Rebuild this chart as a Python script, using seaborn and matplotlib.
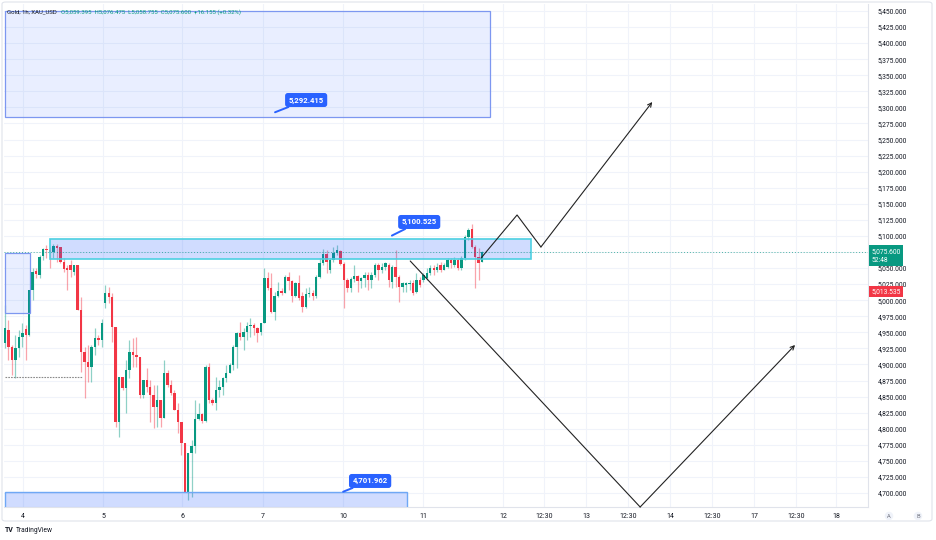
import matplotlib
matplotlib.use("Agg")
import matplotlib.pyplot as plt
import matplotlib.transforms as mtransforms
from matplotlib.patches import Rectangle, FancyBboxPatch
import seaborn as sns
import numpy as np
import pandas as pd

# ---------------- data (XAU/USD, 1h candles) ----------------
opens = [4933, 4954, 4927, 4907, 4926, 4943, 4955, 4946, 5016, 5045,
         5039, 5069, 5080, 5078, 5075, 5084, 5083, 5059, 5050, 5055,
         5044, 5055, 4985, 4919, 4904, 4896, 4927, 4941, 4938, 4996,
         5011, 5005, 4958, 4810, 4880, 4863, 4891, 4919, 4915, 4912,
         4853, 4876, 4865, 4853, 4834, 4845, 4817, 4887, 4868, 4856,
         4829, 4810, 4778, 4702, 4762, 4773, 4815, 4823, 4812, 4896,
         4845, 4840, 4860, 4865, 4879, 4887, 4899, 4927, 4949, 4943,
         4951, 4960, 4961, 4957, 4951, 4965, 5035, 5019, 4982, 5007,
         5014, 5011, 5036, 5030, 5007, 5027, 5007, 4989, 5010, 5011,
         5007, 5036, 5058, 5072, 5047, 5063, 5073, 5077, 5056, 5031,
         5019, 5033, 5038, 5030, 5035, 5039, 5031, 5039, 5055, 5047,
         5052, 5055, 5028, 5052, 5036, 5021, 5024, 5025, 5027, 5013,
         5031, 5031, 5035, 5042, 5050, 5047, 5055, 5047, 5052, 5063,
         5055, 5063, 5050, 5066, 5098, 5111, 5083, 5067, 5059.395]
highs = [4993, 4969, 4930, 4946, 4954, 4965, 4961, 5016, 5050, 5050,
         5070, 5081, 5086, 5083, 5087, 5087, 5083, 5066, 5055, 5063,
         5055, 5055, 5005, 4927, 4930, 4930, 4957, 4946, 4971, 5024,
         5021, 5011, 4958, 4880, 4880, 4907, 4938, 4941, 4943, 4912,
         4876, 4894, 4876, 4868, 4868, 4845, 4907, 4891, 4876, 4860,
         4840, 4810, 4778, 4762, 4782, 4845, 4840, 4824, 4899, 4902,
         4848, 4880, 4876, 4880, 4899, 4902, 4930, 4951, 4966, 4957,
         4966, 4972, 4965, 4958, 4965, 5050, 5044, 5042, 5013, 5028,
         5019, 5039, 5044, 5031, 5028, 5039, 5013, 5019, 5021, 5016,
         5039, 5066, 5080, 5078, 5066, 5083, 5086, 5078, 5059, 5035,
         5036, 5055, 5039, 5036, 5044, 5044, 5044, 5058, 5058, 5058,
         5059, 5058, 5055, 5078, 5039, 5028, 5028, 5031, 5031, 5042,
         5036, 5042, 5050, 5055, 5055, 5058, 5059, 5058, 5066, 5066,
         5067, 5066, 5069, 5101, 5112, 5119, 5086, 5081, 5076.475]
lows = [4926, 4907, 4884, 4879, 4912, 4927, 4907, 4944, 5000, 5035,
        5035, 5063, 5066, 5050, 5066, 5059, 5058, 5044, 5016, 5036,
        5039, 4985, 4888, 4848, 4873, 4873, 4915, 4930, 4927, 4988,
        4996, 4935, 4803, 4787, 4860, 4825, 4879, 4896, 4896, 4848,
        4848, 4857, 4810, 4801, 4803, 4803, 4817, 4865, 4853, 4829,
        4793, 4759, 4702, 4689, 4694, 4762, 4814, 4809, 4810, 4840,
        4837, 4829, 4849, 4853, 4873, 4887, 4891, 4894, 4938, 4923,
        4938, 4943, 4946, 4935, 4946, 4965, 5016, 4980, 4969, 5005,
        5008, 5011, 5016, 4997, 5005, 5000, 4982, 4988, 5005, 5000,
        5003, 5035, 5055, 5042, 5042, 5059, 5070, 5055, 4988, 5013,
        5013, 5028, 5013, 5019, 5021, 5016, 5019, 5036, 5031, 5042,
        5047, 5021, 5019, 5021, 4997, 5013, 5013, 5016, 5008, 5011,
        5021, 5028, 5031, 5039, 5039, 5044, 5044, 5047, 5050, 5050,
        5052, 5047, 5047, 5063, 5094, 5081, 5019, 5031, 5058.755]
closes = [4957, 4927, 4907, 4926, 4943, 4949, 4946, 5016, 5044, 5041,
          5067, 5080, 5078, 5075, 5084, 5081, 5059, 5049, 5047, 5047,
          5055, 4985, 4919, 4904, 4896, 4927, 4941, 4938, 4965, 5011,
          5005, 4958, 4810, 4880, 4863, 4891, 4919, 4915, 4912, 4853,
          4876, 4865, 4853, 4834, 4845, 4817, 4887, 4868, 4856, 4829,
          4810, 4778, 4702, 4762, 4773, 4815, 4823, 4812, 4896, 4845,
          4840, 4860, 4865, 4879, 4887, 4899, 4927, 4949, 4943, 4951,
          4960, 4961, 4957, 4949, 4965, 5035, 5019, 4982, 5007, 5014,
          5011, 5036, 5030, 5007, 5027, 5003, 4989, 5010, 5011, 5007,
          5036, 5058, 5072, 5059, 5063, 5073, 5078, 5056, 5031, 5019,
          5033, 5038, 5030, 5035, 5039, 5031, 5039, 5055, 5047, 5052,
          5058, 5031, 5052, 5036, 5021, 5027, 5027, 5027, 5011, 5031,
          5024, 5039, 5042, 5050, 5047, 5052, 5047, 5055, 5063, 5058,
          5063, 5050, 5066, 5098, 5109, 5083, 5067, 5058, 5075.600]

time_labels = ["4", "5", "6", "7", "10", "11", "12", "12:30", "13", "12:30",
               "14", "12:30", "17", "12:30", "18"]
time_positions = [5.15, 28.35, 51.2, 74.6, 97.8, 120.9, 144.1, 155.9, 168.1,
                  180.2, 192.4, 204.5, 216.7, 228.8, 240.4]
price_ticks = list(range(4700, 5451, 25))

zone_labels = ["5,292.415", "5,100.525", "4,701.962"]
zone_levels = [5292.415, 5100.525, 4701.962]
last_price = 5075.600
marker_price = 5013.535

# ---------------- style ----------------
sns.set_theme(style="white")
plt.rcParams['font.family'] = ['Roboto', 'DejaVu Sans']

GREEN = "#089981"
RED = "#f23645"
BLUE = "#2962ff"
GRID = "#f0f3fa"
TXT = "#131722"

df = pd.DataFrame({"open": opens, "high": highs, "low": lows, "close": closes})
df["idx"] = np.arange(len(df))
df["up"] = df["close"] >= df["open"]
df["color"] = np.where(df["up"], GREEN, RED)

fig = plt.figure(figsize=(9.36, 5.40), dpi=100)
fig.patch.set_facecolor("white")
ax = fig.add_axes([4 / 936, 33 / 540, 864 / 936, 503 / 540])
ax.set_facecolor("white")
ax.set_xlim(-0.29, 249.6)
ax.set_ylim(4678.2, 5460.9)

# grid
for p in price_ticks:
    ax.axhline(p, color=GRID, lw=0.8, zorder=0)
for t in time_positions:
    ax.axvline(t, color=GRID, lw=0.8, zorder=0)

# candles
ax.vlines(df["idx"], df["low"], df["high"], colors=df["color"], lw=0.9,
          alpha=0.45, zorder=2)
body_bottom = np.minimum(df["open"], df["close"])
body_height = np.maximum(np.abs(df["close"] - df["open"]), 1.3)
ax.bar(df["idx"], body_height, bottom=body_bottom, width=0.7,
       color=df["color"], linewidth=0, zorder=2.5)

# zones / rectangles
def zone(x0, x1, y0, y1, alpha, edge, lw):
    ax.add_patch(Rectangle((x0, y0), x1 - x0, y1 - y0, facecolor=BLUE, alpha=alpha,
                           edgecolor="none", zorder=3))
    ax.add_patch(Rectangle((x0, y0), x1 - x0, y1 - y0, facecolor="none",
                           edgecolor=edge, lw=lw, zorder=3))

zone(0, 140.3, 5285, 5450, 0.1, "#7d97f0", 0.9)
zone(0, 7.2, 4980, 5073.4, 0.1, "#7d97f0", 0.9)
zone(13.0, 152.2, 5064, 5095, 0.22, "#4dd0e1", 1.2)
zone(0, 116.3, 4660, zone_levels[2], 0.22, "#6fa8f5", 1.0)

# price lines
ax.axhline(last_price, color=GREEN, lw=0.7, ls=(0, (1, 2)), alpha=0.7, zorder=3.5)
ax.plot([0, 22.3], [4881, 4881], color="#8a8a8a", lw=0.8, ls=(0, (1.5, 1)), zorder=3.5)

# drawn projection paths
up_x = [137.7, 148.1, 155.0]
up_y = [5065.7, 5132.6, 5082.8]
ax.plot(up_x, up_y, color="#222222", lw=0.8, zorder=4)
ax.annotate("", xy=(187.2, 5308.4), xytext=(155.0, 5082.8),
            arrowprops=dict(arrowstyle="->", color="#222222", lw=0.8,
                            shrinkA=0, shrinkB=0, mutation_scale=7), zorder=4)
dn_x = [117.2, 183.7]
dn_y = [5061.0, 4678.2]
ax.plot(dn_x, dn_y, color="#222222", lw=0.8, zorder=4, clip_on=False)
ax.annotate("", xy=(228.5, 4930.3), xytext=(183.7, 4678.2),
            arrowprops=dict(arrowstyle="->", color="#222222", lw=0.8,
                            shrinkA=0, shrinkB=0, mutation_scale=7), zorder=4)

# zone price callouts
tips = [(78.1, zone_levels[0]), (111.9, zone_levels[1]), (97.8, zone_levels[2])]
boxes = [(87.1, 5311.5), (119.8, 5121.7), (105.6, 4718.7)]
for lab, tip, box in zip(zone_labels, tips, boxes):
    ax.annotate(lab, xy=tip, xytext=box, ha="center", va="center",
                color="white", fontsize=5.6, fontweight="bold", zorder=6,
                bbox=dict(boxstyle="round,pad=0.45,rounding_size=0.35",
                          fc=BLUE, ec="none"),
                arrowprops=dict(arrowstyle="-", color=BLUE, lw=1.4,
                                shrinkA=0, shrinkB=0))

# axes styling (5,075 tick label is hidden behind the last-price badge)
ax.yaxis.tick_right()
ax.set_yticks(price_ticks)
ax.set_yticklabels(["" if p == 5075 else f"{p:,.3f}" for p in price_ticks])
ax.tick_params(axis="y", length=0, pad=7, labelsize=4.9, labelcolor=TXT)
ax.set_xticks(time_positions)
ax.set_xticklabels(time_labels)
ax.tick_params(axis="x", length=0, pad=4.5, labelsize=5, labelcolor=TXT)
for s in ["top", "left"]:
    ax.spines[s].set_visible(False)
for s in ["right", "bottom"]:
    ax.spines[s].set_color("#e0e3eb")
    ax.spines[s].set_linewidth(0.8)

# price-scale labels
blend = mtransforms.blended_transform_factory(ax.transAxes, ax.transData)
ax.text(1.004, 5081.5, "5,075.600\n52:48", transform=blend, ha="left", va="top",
        fontsize=4.9, color="white", linespacing=1.35, zorder=7, clip_on=False,
        bbox=dict(boxstyle="square,pad=0.35", fc=GREEN, ec="none"))
ax.text(1.004, marker_price, "5,013.535", transform=blend, ha="left", va="center",
        fontsize=4.9, color="white", zorder=7, clip_on=False,
        bbox=dict(boxstyle="square,pad=0.3", fc=RED, ec="none"))

# header legend
fig.text(7 / 936, 1 - 12 / 540, "Gold, 1h, XAU_USD", fontsize=4.3, color=TXT,
         ha="left", va="center")
fig.text(61 / 936, 1 - 12 / 540,
         "O5,059.395  H5,076.475  L5,058.755  C5,075.600  +16.155 (+0.32%)",
         fontsize=4.3, color=GREEN, ha="left", va="center")

# scale buttons
for xpx, letter in [(889, "A"), (918, "B")]:
    fig.text(xpx / 936, 1 - 516 / 540, letter, fontsize=4.2, color="#787b86",
             ha="center", va="center",
             bbox=dict(boxstyle="circle,pad=0.3", fc="#f0f3fa", ec="none"))

# card border
fig.add_artist(FancyBboxPatch((2 / 936, 19 / 540), 930 / 936, 519 / 540,
                              boxstyle="round,pad=0,rounding_size=0.004",
                              transform=fig.transFigure, fill=False,
                              ec="#e0e3eb", lw=0.8))

# logo
fig.text(5 / 936, 1 - 530 / 540, "TV", fontsize=5, fontweight="bold", color=TXT,
         ha="left", va="center")
fig.text(16 / 936, 1 - 530 / 540, "TradingView", fontsize=4.8, color=TXT,
         ha="left", va="center")

fig.savefig("out.png", dpi=100)
